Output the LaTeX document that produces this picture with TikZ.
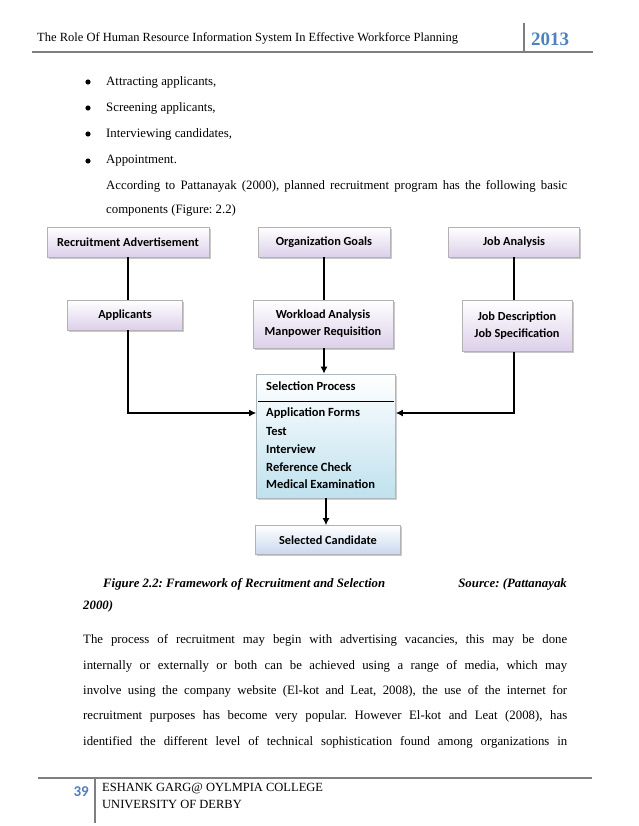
\documentclass[tikz,border=0pt]{standalone}
\usepackage{fontspec}
\setmainfont{Liberation Serif}
\newfontfamily\calfont{Carlito}
\usetikzlibrary{shadows,arrows.meta,calc}
\frenchspacing
\definecolor{hdrblue}{HTML}{4F81BD}
\definecolor{lav}{HTML}{DCD0EA}
\definecolor{selblue}{HTML}{BFE1EE}
\definecolor{candblue}{HTML}{C9D8EE}
\definecolor{ruleg}{HTML}{7F7F7F}
\tikzset{
  body/.style={font=\fontsize{12.8}{14}\selectfont, inner sep=0pt},
  capt/.style={inner sep=0pt, font=\fontsize{12.8}{14}\bfseries\itshape\selectfont},
  purplebox/.style={draw=black!30, line width=0.6pt, top color=white, bottom color=lav,
    font=\calfont\bfseries\fontsize{12.3}{17}\selectfont, align=center, inner sep=0pt,
    drop shadow={shadow xshift=1.5pt, shadow yshift=-1.5pt, fill=black!35, opacity=0.6}},
  selbox/.style={draw=selblue!60!black!60, line width=0.6pt, top color=white, bottom color=selblue,
    inner sep=0pt,
    drop shadow={shadow xshift=1.5pt, shadow yshift=-1.5pt, fill=black!30, opacity=0.6}},
  candbox/.style={draw=black!30, line width=0.6pt, top color=white, bottom color=candblue,
    font=\calfont\bfseries\fontsize{12.3}{14}\selectfont, inner sep=0pt,
    drop shadow={shadow xshift=1.5pt, shadow yshift=-1.5pt, fill=black!35, opacity=0.6}},
  seltext/.style={anchor=west, inner sep=0pt, font=\calfont\bfseries\fontsize{12.5}{14}\selectfont},
  conn/.style={line width=2.2pt, black},
  arr/.style={conn, -{Latex[length=7pt,width=7pt]}},
  rulegray/.style={ruleg, line width=1.6pt},
  foot/.style={anchor=west, inner sep=0pt, font=\fontsize{12.5}{13}\selectfont},
}
\begin{document}
\begin{tikzpicture}[x=1pt,y=-1pt]
\useasboundingbox (0,0) rectangle (638,826);
\fill[white] (0,0) rectangle (638,826);

% header
\node[anchor=west, inner sep=0pt, font=\fontsize{12.5}{13}\selectfont] (htitle) at (37,38)
  {The Role Of Human Resource Information System In Effective Workforce Planning};
\node[anchor=west, inner sep=0pt, text=hdrblue, font=\fontsize{19}{20}\bfseries\selectfont] (hyear) at (531,39) {2013};
\draw[rulegray] (32,52) -- (593,52);
\draw[rulegray] (524,23) -- (524,52);

% bullet list
\foreach \y/\t [count=\i] in {82/{Attracting applicants,}, 108/{Screening applicants,}, 134/{Interviewing candidates,}, 161/{Appointment.}}{
  \fill[black] (88,\y) circle (2.6pt) coordinate (b\i);
  \node[body, anchor=west] (bt\i) at (106,\y) {\t};
}
\node[body, anchor=west] (p1a) at (106,186) {\makebox[461pt][s]{According to Pattanayak (2000), planned recruitment program has the following basic}};
\node[body, anchor=west] (p1b) at (106,210) {components (Figure: 2.2)};

% diagram boxes
\node[purplebox, minimum width=162pt, minimum height=30pt] (ra) at (128,242) {Recruitment Advertisement};
\node[purplebox, minimum width=132pt, minimum height=30pt] (og) at (324,242) {Organization Goals};
\node[purplebox, minimum width=131pt, minimum height=30pt] (ja) at (514,242) {Job Analysis};
\node[purplebox, minimum width=115pt, minimum height=30pt] (app) at (125,315) {Applicants};
\node[purplebox, minimum width=140pt, minimum height=48pt] (wl) at (323,324) {Workload Analysis\\Manpower Requisition};
\node[purplebox, minimum width=110pt, minimum height=51pt] (jd) at (517,326) {Job Description\\Job Specification};

\node[selbox, minimum width=139pt, minimum height=124pt] (sel) at (326,436) {};
\node[seltext] (st) at (266,386) {Selection Process};
\draw[black, line width=0.8pt] ($(sel.north west)+(2,28)$) coordinate (dl) -- ($(sel.north east)+(-2,28)$) coordinate (dr);
\node[seltext] (af) at (266,413) {Application Forms};
\node[seltext] (te) at (266,431) {Test};
\node[seltext] (iv) at (266,449) {Interview};
\node[seltext] (rc) at (266,467) {Reference Check};
\node[seltext] (me) at (266,484) {Medical Examination};

\node[candbox, minimum width=145pt, minimum height=29pt] (cand) at (328,540) {Selected Candidate};

% connectors
\draw[conn] (ra) -- (ra |- app.north);
\draw[conn] (og) -- (og |- wl.north);
\draw[conn] (ja) -- (ja |- jd.north);
\draw[arr] (ra |- app.south) |- (sel.west |- af);
\draw[arr] (og |- wl.south) -- (og |- sel.north);
\draw[arr] (ja |- jd.south) |- (sel.east |- af);
\draw[arr] (sel.south) -- (sel.south |- cand.north);

% caption
\node[capt, anchor=west] (cap) at (103,584) {Figure 2.2: Framework of Recruitment and Selection};
\node[capt, anchor=east] (src) at (567,584) {Source: (Pattanayak};
\node[capt, anchor=west] (src2) at (83,606) {2000)};

% paragraph
\node[body, anchor=west] (l1) at (83,640) {\makebox[484pt][s]{The process of recruitment may begin with advertising vacancies, this may be done}};
\node[body, anchor=west] (l2) at (83,666) {\makebox[484pt][s]{internally or externally or both can be achieved using a range of media, which may}};
\node[body, anchor=west] (l3) at (83,691) {\makebox[484pt][s]{involve using the company website (El-kot and Leat, 2008), the use of the internet for}};
\node[body, anchor=west] (l4) at (83,716) {\makebox[484pt][s]{recruitment purposes has become very popular. However El-kot and Leat (2008), has}};
\node[body, anchor=west] (l5) at (83,742) {\makebox[484pt][s]{identified the different level of technical sophistication found among organizations in}};

% footer
\draw[rulegray] (38,778) -- (592,778);
\draw[rulegray] (95,778) -- (95,823);
\node[anchor=east, inner sep=0pt, text=hdrblue, font=\calfont\bfseries\fontsize{15}{16}\selectfont] (pg) at (89,792) {39};
\node[foot] (f1) at (102,789) {ESHANK GARG@ OYLMPIA COLLEGE};
\node[foot] (f2) at (102,804) {UNIVERSITY OF DERBY};
\end{tikzpicture}
\end{document}
